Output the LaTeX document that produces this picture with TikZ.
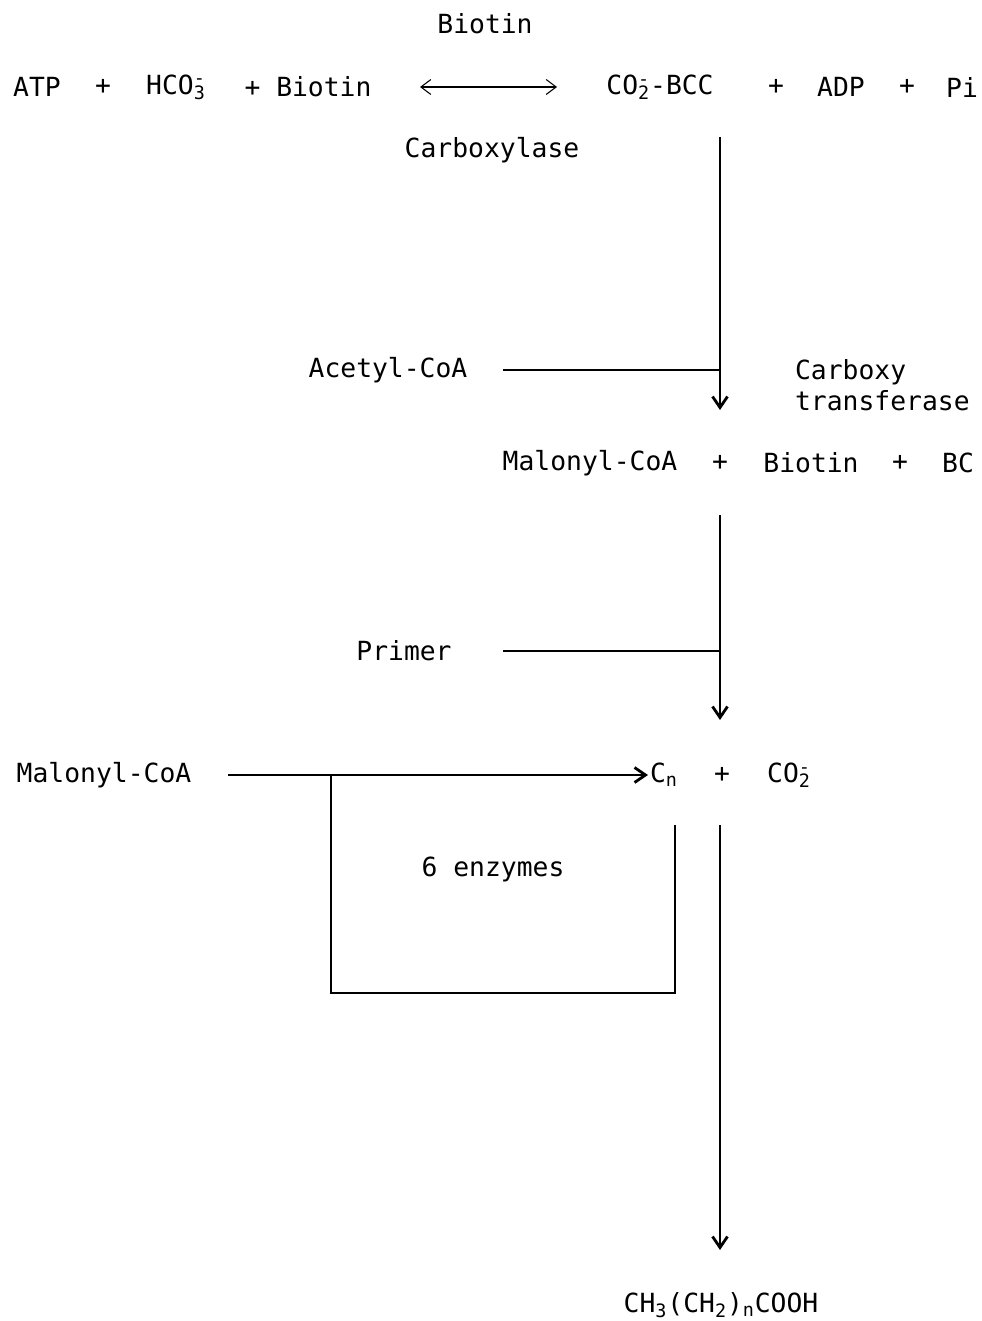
\documentclass[tikz,border=0pt]{standalone}
\usepackage{fontspec}
\setmainfont{DejaVu Sans Mono}
\usepackage{tikz}
\usetikzlibrary{positioning,arrows.meta,calc}
\newcommand{\chemion}[2]{\makebox[0pt][l]{\textsuperscript{#1}}\textsubscript{#2}}
\tikzset{
  flowarrow/.style={-{Straight Barb[length=2.2mm, width=3mm]}, line width=1.6pt},
  flowline/.style={line width=1.6pt},
  eqarrow/.style={{Straight Barb[length=2mm, width=3mm]}-{Straight Barb[length=2mm, width=3mm]}, line width=0.6pt},
  species/.style={inner sep=1pt, font=\fontsize{15}{18}\selectfont},
  enzyme/.style={inner sep=1pt, align=left, font=\fontsize{15}{18}\selectfont}
}
\begin{document}
\begin{tikzpicture}[x=0.02cm, y=-0.02cm]
  \useasboundingbox (0,0) rectangle (982,1321);
  % first reaction
  \node[species] (biotinE) at (485,24) {Biotin};
  \node[species] (atp) at (37,87) {ATP};
  \node[species] (plusA) at (103,87) {+};
  \node[species] (hco) at (176,87) {HCO\chemion{-}{3}};
  \node[species] (biotinA) at (308,87) {+ Biotin};
  \coordinate (eqL) at (420,87);
  \coordinate (eqR) at (557,87);
  \node[species] (bcc) at (660,87) {CO\chemion{-}{2}-BCC};
  \node[species] (plusB) at (776,87) {+};
  \node[species] (adp) at (841,87) {ADP};
  \node[species] (plusC) at (907,87) {+};
  \node[species] (pi) at (962,87) {Pi};
  \node[species] (carbox) at (492,150) {Carboxylase};
  \draw[eqarrow] (eqL) -- (eqR);
  % carboxy transfer
  \node[species] (acetyl) at (388,370) {Acetyl-CoA};
  \node[enzyme, anchor=west] (transf) at (793,385) {Carboxy\\transferase};
  \coordinate (topA) at (720,137);
  \coordinate (joinA) at (720,370);
  \coordinate (endA) at (720,410);
  \coordinate (acetylEnd) at (503,370);
  \draw[flowline] (acetylEnd) -- (joinA);
  \draw[flowarrow] (topA) -- (endA);
  \node[species] (malonylA) at (590,463) {Malonyl-CoA};
  \node[species] (plusD) at (720,463) {+};
  \node[species] (biotinB) at (811,463) {Biotin};
  \node[species] (plusE) at (900,463) {+};
  \node[species] (bc) at (958,463) {BC};
  % primer
  \node[species] (primer) at (404,651) {Primer};
  \coordinate (topB) at (720,515);
  \coordinate (joinB) at (720,651);
  \coordinate (endB) at (720,720);
  \coordinate (primerEnd) at (503,651);
  \draw[flowline] (primerEnd) -- (joinB);
  \draw[flowarrow] (topB) -- (endB);
  % chain elongation
  \node[species] (malonylB) at (104,775) {Malonyl-CoA};
  \node[species, anchor=west] (cn) at (648,775) {C\textsubscript{n}};
  \node[species] (plusF) at (722,775) {+};
  \node[species] (co) at (789,775) {CO\chemion{-}{2}};
  \coordinate (malStart) at (228,775);
  \coordinate (loopA) at (331,775);
  \draw[flowarrow] (malStart) -- (cn.west);
  \draw[flowline] (loopA) -- (331,993) -- (675,993) -- (675,825);
  \node[species] (enzymes) at (493,869) {6 enzymes};
  % fatty acid
  \coordinate (topC) at (720,825);
  \node[species] (acid) at (721,1305) {CH\textsubscript{3}(CH\textsubscript{2})\textsubscript{n}COOH};
  \coordinate (endC) at (720,1250);
  \draw[flowarrow] (topC) -- (endC);
\end{tikzpicture}
\end{document}
